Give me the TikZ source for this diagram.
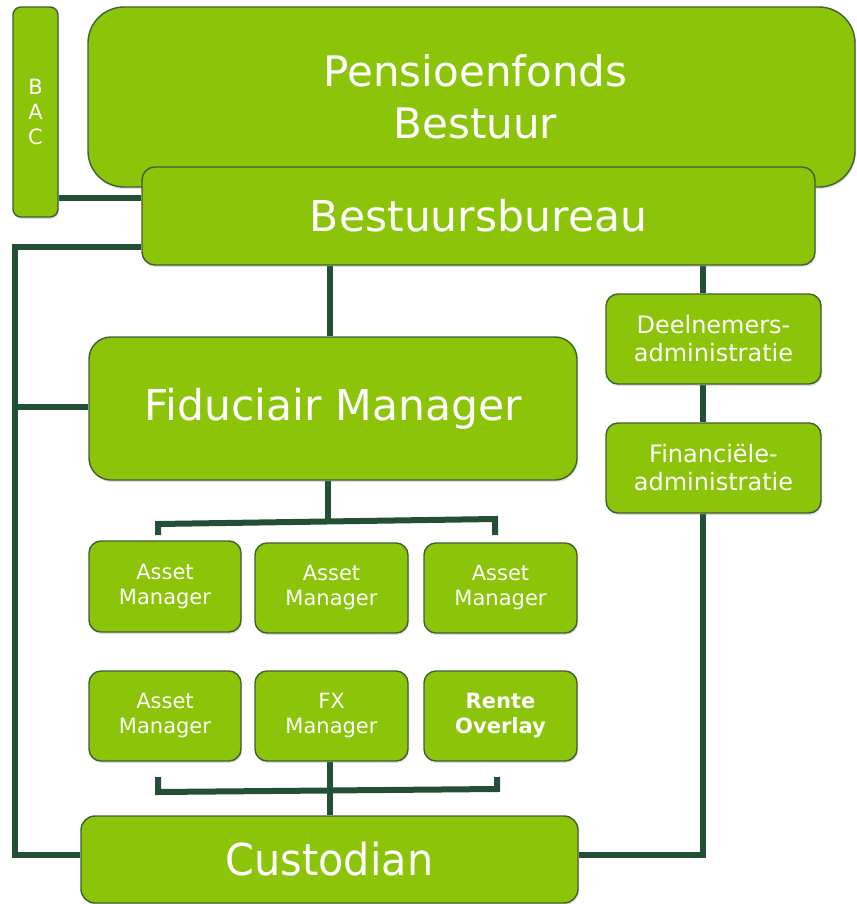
\documentclass[tikz,border=0pt]{standalone}
\usepackage{graphicx}
\usepackage{fontspec}
\setmainfont{DejaVu Sans}
\usetikzlibrary{shadows,backgrounds}
\definecolor{boxg}{RGB}{139,196,8}
\definecolor{boxt}{RGB}{185,235,50}
\definecolor{edgeg}{RGB}{65,95,52}
\definecolor{lineg}{RGB}{35,80,52}
\pgfdeclareverticalshading{gshade}{100bp}{color(0bp)=(boxg); color(90bp)=(boxg); color(96bp)=(boxt); color(100bp)=(boxt)}
\tikzset{
  gbox/.style={draw=edgeg, line width=1.4pt, shading=gshade, rounded corners=12pt,
    inner sep=0pt, align=center, text=white,
    drop shadow={opacity=0.25, shadow xshift=1pt, shadow yshift=-2pt}},
  conn/.style={draw=lineg, line width=6pt, line cap=butt, line join=miter},
  bigtxt/.style={font=\fontsize{42.5}{52}\selectfont},
  medtxt/.style={font=\fontsize{24}{28}\selectfont},
  smalltxt/.style={font=\fontsize{21}{25}\selectfont},
}
\begin{document}
\begin{tikzpicture}[x=1pt,y=-1pt]
\useasboundingbox (0,0) rectangle (856,904);
% boxes
\node[gbox, rounded corners=8pt, minimum width=45pt, minimum height=210pt, font=\fontsize{21}{25}\selectfont] (bac) at (35.5,112) {B\\A\\C};
\node[gbox, rounded corners=36pt, minimum width=767pt, minimum height=180pt, font=\fontsize{42}{52}\selectfont] (pfb) at (471.5,97) {\hspace*{8pt}Pensioenfonds\\\hspace*{8pt}Bestuur};
\node[gbox, rounded corners=13pt, minimum width=673pt, minimum height=98pt, font=\fontsize{42.5}{50}\selectfont] (bb) at (478.5,216) {Bestuursbureau};
\node[gbox, minimum width=215pt, minimum height=90pt, medtxt] (dn) at (713.5,339) {Deelnemers-\\administratie};
\node[gbox, minimum width=215pt, minimum height=90pt, medtxt] (fa) at (713.5,468) {Financiële-\\administratie};
\node[gbox, rounded corners=22pt, minimum width=488pt, minimum height=143pt, bigtxt] (fm) at (333,408.5) {Fiduciair Manager};
\node[gbox, minimum width=152pt, minimum height=91pt, smalltxt] (am1) at (165,586.5) {Asset\\Manager};
\node[gbox, minimum width=153pt, minimum height=90pt, smalltxt] (am2) at (331.5,588) {Asset\\Manager};
\node[gbox, minimum width=153pt, minimum height=90pt, smalltxt] (am3) at (500.5,588) {Asset\\Manager};
\node[gbox, minimum width=152pt, minimum height=90pt, smalltxt] (am4) at (165,716) {Asset\\Manager};
\node[gbox, minimum width=153pt, minimum height=90pt, smalltxt] (fx) at (331.5,716) {FX\\Manager};
\node[gbox, minimum width=153pt, minimum height=90pt, font=\fontsize{21}{25}\selectfont\bfseries] (ro) at (500.5,716) {Rente\\Overlay};
\node[gbox, rounded corners=14pt, minimum width=497pt, minimum height=87pt, font=\fontsize{44}{50}\selectfont] (cu) at (329.5,859.5) {\scalebox{0.94}[1]{Custodian}};
% connectors
\begin{pgfonlayer}{background}
\coordinate (lt) at (15,247);
\coordinate (lm) at (15,407);
\coordinate (lb) at (15,855);
\coordinate (rb) at (703,855);
\coordinate (tl) at (158,535);
\coordinate (tr) at (495,535);
\coordinate (bl) at (158,777);
\coordinate (br) at (497,777);
\draw[conn] (bac.east |- 0,198) -- (bb.west |- 0,198);
\draw[conn] (bb.west |- lt) -- (lt) -- (lb) -- (cu.west |- lb);
\draw[conn] (lm) -- (fm.west |- lm);
\draw[conn] (bb.south -| 330,0) -- (fm.north -| 330,0);
\draw[conn] (bb.south -| rb) -- (dn.north -| rb);
\draw[conn] (dn.south -| rb) -- (fa.north -| rb);
\draw[conn] (fa.south -| rb) -- (rb) -- (cu.east |- rb);
\draw[conn] (fm.south -| 328,0) -- (328,522);
\draw[conn] (tl) -- (158,524) -- (495,519) -- (tr);
\draw[conn] (bl) -- (158,792) -- (497,789) -- (br);
\draw[conn] (fx.south -| 330,0) -- (cu.north -| 330,0);
\end{pgfonlayer}
\end{tikzpicture}
\end{document}
